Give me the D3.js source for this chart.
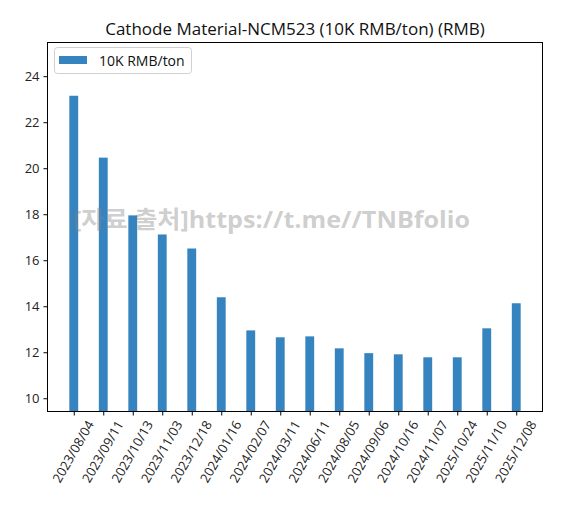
<!DOCTYPE html>
<html><head><meta charset="utf-8">
<script src="https://cdn.jsdelivr.net/npm/d3@7"></script>
<style>body{margin:0;background:#fff}</style>
</head><body>
<svg id="c" width="562" height="515"></svg>
<script>
const categories = ["2023/08/04","2023/09/11","2023/10/13","2023/11/03","2023/12/18","2024/01/16","2024/02/07","2024/03/11","2024/06/11","2024/08/05","2024/09/06","2024/10/16","2024/11/07","2025/10/24","2025/11/10","2025/12/08"];
const values = [23.15, 20.46, 17.95, 17.12, 16.51, 14.39, 12.95, 12.65, 12.69, 12.17, 11.96, 11.91, 11.78, 11.78, 13.04, 14.13];
const yTicks = [10, 12, 14, 16, 18, 20, 22, 24];
const seriesName = "10K RMB/ton";
const title = "Cathode Material-NCM523 (10K RMB/ton) (RMB)";
const watermark = "[자료 출처]https://t.me//TNBfolio";

const font = "'Open Sans', 'Noto Sans CJK KR', sans-serif";
const svg = d3.select("#c");
const L = 47.5, R = 542.5, T = 42.5, B = 411.5;
const n = categories.length;
const x = d3.scaleLinear().domain([-0.89, n - 1 + 0.89]).range([L, R]);
const yMax = d3.max(values) * 1.1, yMin = d3.min(values) * 0.8;
const y = d3.scaleLinear().domain([yMin, yMax]).range([B, T]);
const bw = x(0.3) - x(0);

svg.append("clipPath").attr("id","cl").append("rect")
  .attr("x", L).attr("y", T).attr("width", R-L).attr("height", B-T);

svg.append("g").attr("clip-path","url(#cl)").selectAll("rect").data(values).join("rect")
  .attr("x", (d,i) => x(i) - bw/2).attr("width", bw)
  .attr("y", d => y(d)).attr("height", d => B + 5 - y(d))
  .attr("fill", "#3584bf");

// axes
const xAxis = d3.axisBottom(x).tickValues(d3.range(n)).tickFormat(i => categories[i]).tickSize(4).tickPadding(3);
const gx = svg.append("g").attr("transform", `translate(0,${B})`).call(xAxis);
gx.select(".domain").remove();
gx.selectAll("line").attr("stroke","#000");
gx.selectAll("text").attr("font-family", font).attr("font-size", 13).attr("fill","#222")
  .attr("text-anchor","middle").attr("dy","0.35em").attr("y", 0)
  .each(function() {
    const len = this.getComputedTextLength();
    const h = 13;
    const halfV = (len * Math.sin(Math.PI/3) + h * 0.5) / 2;
    d3.select(this).attr("transform", `translate(-1,${7 + halfV}) rotate(-60)`);
  });

const yAxis = d3.axisLeft(y).tickValues(yTicks).tickSize(4).tickPadding(4);
const gy = svg.append("g").attr("transform", `translate(${L},0)`).call(yAxis);
gy.select(".domain").remove();
gy.selectAll("line").attr("stroke","#000");
gy.selectAll("text").attr("font-family", font).attr("font-size", 13).attr("fill","#222");

svg.append("rect").attr("x", L).attr("y", T).attr("width", R-L).attr("height", B-T)
  .attr("fill","none").attr("stroke","#000").attr("stroke-width",1);

// title
svg.append("text").attr("x", (L+R)/2).attr("y", 35).attr("text-anchor","middle")
  .attr("font-family", font).attr("font-size", 17).attr("fill","#111").text(title);

// legend
const lg = svg.append("g");
lg.append("rect").attr("x", 54.5).attr("y", 47.5).attr("width", 137).attr("height", 26).attr("rx", 3)
  .attr("fill","#fff").attr("fill-opacity",0.8).attr("stroke","#d0d0d0");
lg.append("rect").attr("x", 59).attr("y", 56).attr("width", 28).attr("height", 8).attr("fill","#3584bf");
lg.append("text").attr("x", 99).attr("y", 66).attr("font-family", font).attr("font-size", 14)
  .attr("fill","#111").text(seriesName);

// watermark
svg.append("text").attr("x", 73).attr("y", 228).attr("font-family", font).attr("font-weight", "bold")
  .attr("font-size", 24).attr("fill","#808080").attr("fill-opacity",0.4)
  .attr("textLength", 397).attr("lengthAdjust", "spacingAndGlyphs").text(watermark);
</script>
</body></html>
